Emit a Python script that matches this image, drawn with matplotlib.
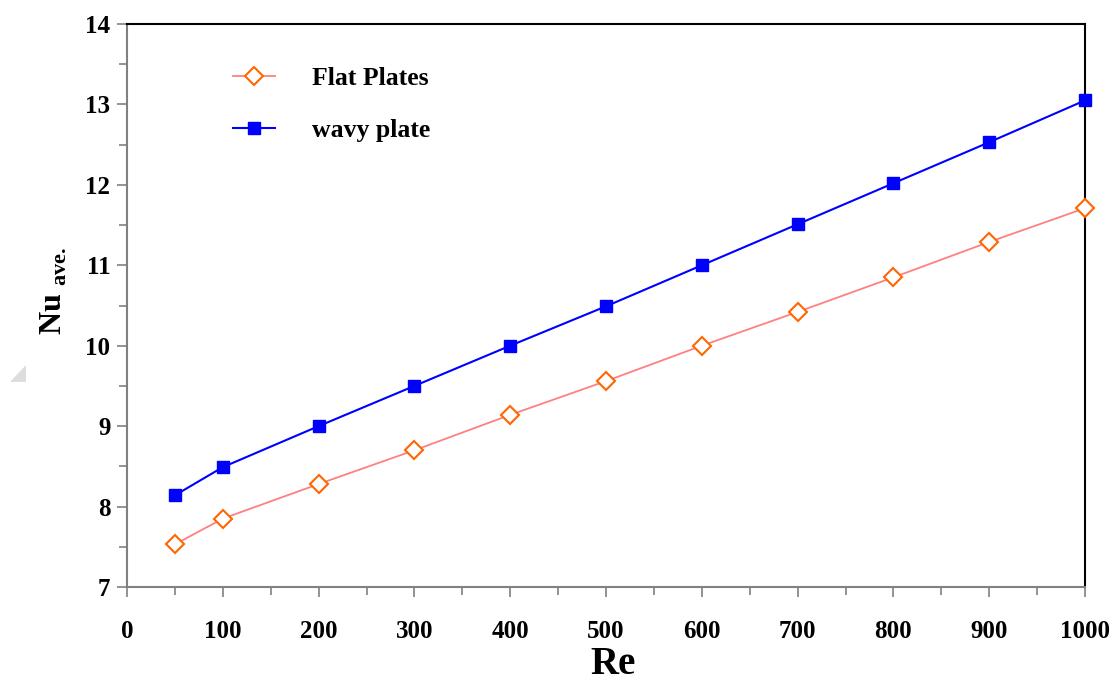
import matplotlib
matplotlib.use('Agg')
import matplotlib.pyplot as plt
from matplotlib.ticker import MultipleLocator
from matplotlib.patches import Polygon

# data
re_vals   = [50, 100, 200, 300, 400, 500, 600, 700, 800, 900, 1000]
nu_flat   = [7.53, 7.85, 8.28, 8.70, 9.14, 9.56, 10.00, 10.42, 10.85, 11.29, 11.71]
nu_wavy   = [8.14, 8.49, 9.00, 9.50, 10.00, 10.49, 11.00, 11.51, 12.02, 12.53, 13.05]
labels    = ['Flat Plates', 'wavy plate']

plt.rcParams['font.family'] = 'Liberation Serif'
plt.rcParams['font.weight'] = 'bold'
plt.rcParams['mathtext.fontset'] = 'custom'
plt.rcParams['mathtext.rm'] = 'Liberation Serif:bold'
plt.rcParams['mathtext.bf'] = 'Liberation Serif:bold'

fig = plt.figure(figsize=(11.15, 6.82), dpi=100)
ax = fig.add_axes([127/1115, 95/682, 958/1115, 563/682])

ax.plot(re_vals, nu_flat, color='#FF8080', lw=1.3, marker='D', ms=9.5,
        mfc='white', mec='#FF6600', mew=1.5, label=labels[0], clip_on=False, zorder=3)
ax.plot(re_vals, nu_wavy, color='#0000FF', lw=1.5, marker='s', ms=9,
        mfc='#0000FF', mec='#0000FF', label=labels[1], clip_on=False, zorder=3)

ax.set_xlim(0, 1000)
ax.set_ylim(7, 14)
ax.xaxis.set_major_locator(MultipleLocator(100))
ax.xaxis.set_minor_locator(MultipleLocator(50))
ax.yaxis.set_major_locator(MultipleLocator(1))
ax.yaxis.set_minor_locator(MultipleLocator(0.5))

ax.tick_params(which='both', direction='out', color='#808080', width=1.2,
               labelsize=18)
ax.tick_params(axis='x', which='both', pad=17)
ax.tick_params(axis='y', which='both', pad=5)
ax.tick_params(which='major', length=7)
ax.tick_params(which='minor', length=6)
for lab in ax.get_xticklabels() + ax.get_yticklabels():
    lab.set_fontweight('bold')

for side in ['left', 'bottom']:
    ax.spines[side].set_color('#808080')
    ax.spines[side].set_linewidth(1.5)
for side in ['top', 'right']:
    ax.spines[side].set_color('black')
    ax.spines[side].set_linewidth(1.5)

ax.set_xlabel('Re', fontsize=28, fontweight='bold')
ax.xaxis.set_label_coords(0.507, -0.105)
ax.set_ylabel(r'$\mathrm{Nu}_{\ \mathrm{ave.}}$', fontsize=23)
ax.yaxis.set_label_coords(-0.061, 0.525)

ax.legend(loc='upper left', bbox_to_anchor=(0.087, 0.965), frameon=False,
          fontsize=18.5, handlelength=1.6, handletextpad=1.45, labelspacing=1.15)

# small grey mark at left edge of the original image
fig.patches.append(Polygon([[10/1115, 1 - 382/682], [26/1115, 1 - 365/682], [26/1115, 1 - 382/682]],
                           closed=True, transform=fig.transFigure, color='#dddddd', lw=0))

fig.savefig('out.png', dpi=100)
